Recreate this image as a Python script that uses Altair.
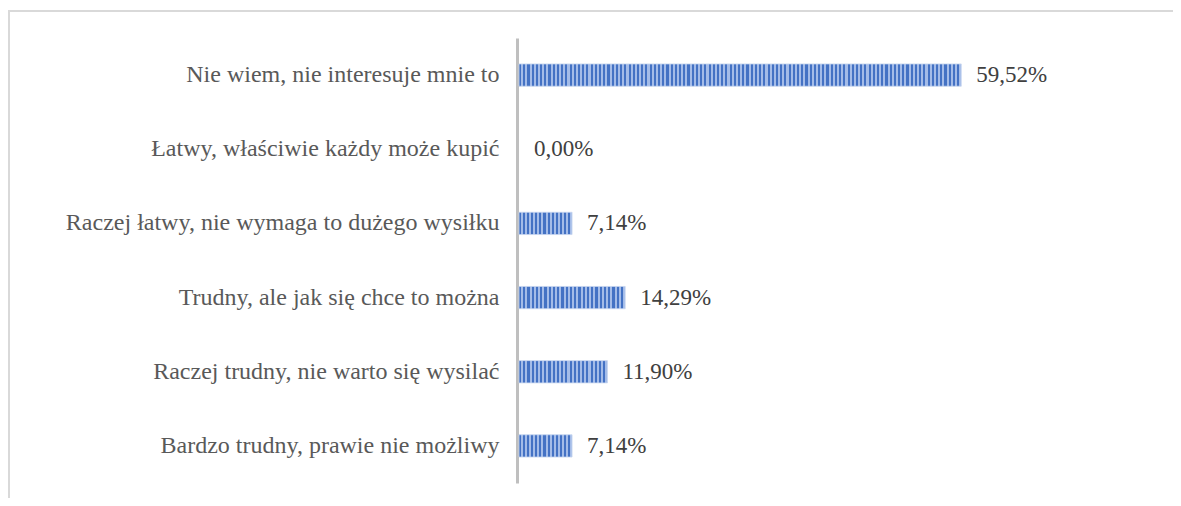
import altair as alt
import pandas as pd

categories = [
    "Nie wiem, nie interesuje mnie to",
    "Łatwy, właściwie każdy może kupić",
    "Raczej łatwy, nie wymaga to dużego wysiłku",
    "Trudny, ale jak się chce to można",
    "Raczej trudny, nie warto się wysilać",
    "Bardzo trudny, prawie nie możliwy",
]
values = [59.52, 0.00, 7.14, 14.29, 11.90, 7.14]

df = pd.DataFrame({"cat": categories, "val": values})
df["label"] = [f"{v:.2f}".replace(".", ",") + "%" for v in values]

W, H = 639, 445
XMAX = 86.0
DARK = "#4472c4"
LIGHT = "#a4bce8"
FONT = "Liberation Serif"

y_enc = alt.Y("cat:N", sort=categories,
              scale=alt.Scale(paddingInner=0.7, paddingOuter=0.35),
              axis=alt.Axis(title=None, ticks=False, labelFont=FONT,
                            labelFontSize=24, labelColor="#595959", labelPadding=18,
                            labelLimit=600, domainColor="#bfbfbf", domainWidth=3,
                            grid=False))
x_scale = alt.Scale(domain=[0, XMAX], nice=False, zero=True)

base = alt.Chart(df)

layers = []
for c, v in zip(categories, values):
    if v <= 0:
        continue
    px = v / XMAX * W
    n = max(1, round(px / 4.2))
    stops = []
    for i in range(n):
        a = i / n
        m = (i + 0.5) / n
        b = (i + 1) / n
        stops += [
            {"offset": a, "color": DARK},
            {"offset": m, "color": DARK},
            {"offset": m, "color": LIGHT},
            {"offset": b, "color": LIGHT},
        ]
    grad = alt.Gradient(gradient="linear", x1=0, x2=1, y1=0, y2=0, stops=stops)
    layers.append(
        base.transform_filter(alt.datum.cat == c)
        .mark_bar(color=grad, stroke="#c5d4ef", strokeWidth=0.8, xOffset=2)
        .encode(x=alt.X("val:Q", scale=x_scale, axis=None),
                y=alt.Y("cat:N", sort=categories))
    )

axis_layer = base.mark_bar(opacity=0).encode(
    x=alt.X("val:Q", scale=x_scale, axis=None), y=y_enc)

text = base.mark_text(align="left", baseline="middle", dx=17, font=FONT,
                      fontSize=23, color="#404040").encode(
    x="val:Q", y=alt.Y("cat:N", sort=categories), text="label:N")

border_top = alt.Chart(df).mark_rule(color="#d9d9d9", strokeWidth=2).encode(
    x=alt.value(-509), x2=alt.value(W + 60), y=alt.value(-27))
border_left = alt.Chart(df).mark_rule(color="#d9d9d9", strokeWidth=2).encode(
    x=alt.value(-508), y=alt.value(-28), y2=alt.value(H + 40))

chart = alt.layer(border_top, border_left, axis_layer, *layers, text).properties(
    width=W, height=H,
    background="white",
    autosize=alt.AutoSizeParams(type="none"),
    padding={"left": 509, "top": 30, "right": 17, "bottom": 15},
).configure_view(strokeWidth=0, stroke=None)

chart.save("out.html", embed_options={"renderer": "svg", "actions": False})
